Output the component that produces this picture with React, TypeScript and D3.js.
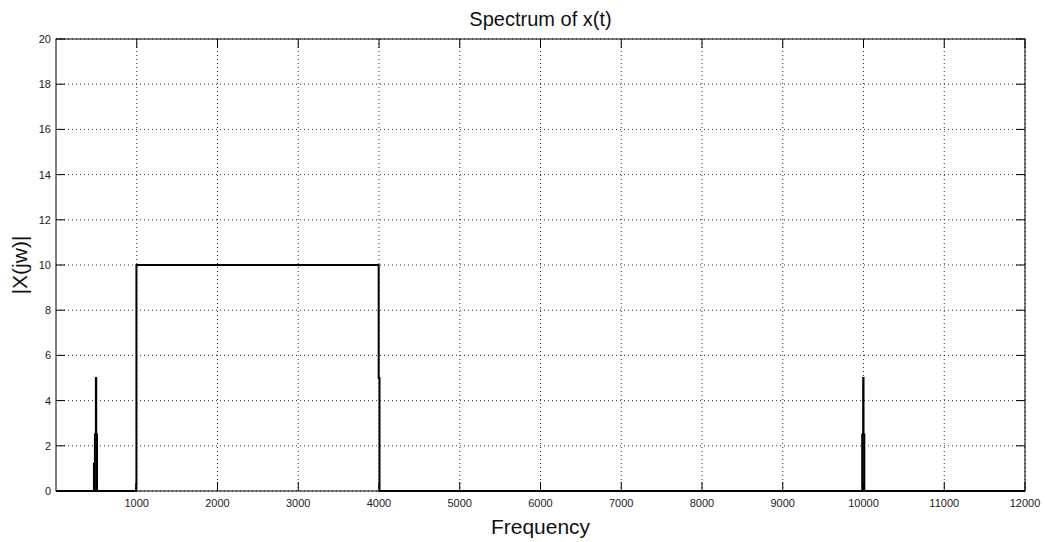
import React from "react";
import * as d3 from "d3";

const freqHz = [0, 470, 470, 470, 482, 482, 494, 494, 498, 498, 508, 508, 990, 992, 992, 996, 996, 3996, 3996, 4006, 4006, 9984, 9984, 9996, 9996, 10000, 10000, 10010, 10010, 12000];
const magnitude = [0, 0, 1.25, 0, 0, 2.5, 2.5, 5, 5, 2.5, 2.5, 0, 0, 0, 0.3, 0.3, 10, 10, 5, 5, 0, 0, 2.5, 2.5, 5, 5, 2.5, 2.5, 0, 0];
const xTicks = [1000, 2000, 3000, 4000, 5000, 6000, 7000, 8000, 9000, 10000, 11000, 12000];
const yTicks = [0, 2, 4, 6, 8, 10, 12, 14, 16, 18, 20];

const W = 1045, H = 542;
const L = 56, R = 1025, T = 39, B = 491;
const FONT = "'Liberation Sans', Arial, Helvetica, sans-serif";

export default function App() {
  const x = d3.scaleLinear().domain([0, 12000]).range([L, R]);
  const y = d3.scaleLinear().domain([0, 20]).range([B, T]);
  const pts: [number, number][] = freqHz.map((f, i) => [f, magnitude[i]]);
  const line = d3.line<[number, number]>().x(d => x(d[0])).y(d => y(d[1]));
  const tl = 9;
  return (
    <svg width={W} height={H} style={{ position: "absolute", left: 0, top: 0, background: "#fff" }}>
      <rect x={0} y={0} width={W} height={H} fill="#fff" />
      {xTicks.map(t => (
        <line key={"gx" + t} x1={x(t)} x2={x(t)} y1={T} y2={B} stroke="#000" strokeWidth={0.8} strokeDasharray="1,3" />
      ))}
      {yTicks.map(t => (
        <line key={"gy" + t} x1={L} x2={R} y1={y(t)} y2={y(t)} stroke="#000" strokeWidth={0.8} strokeDasharray="1,3" />
      ))}
      {xTicks.map(t => (
        <g key={"tx" + t}>
          <line x1={x(t)} x2={x(t)} y1={B} y2={B - tl} stroke="#000" />
          <line x1={x(t)} x2={x(t)} y1={T} y2={T + tl} stroke="#000" />
          <text x={x(t)} y={507} fontSize={11} fontFamily={FONT} textAnchor="middle" fill="#222">{t}</text>
        </g>
      ))}
      {yTicks.map(t => (
        <g key={"ty" + t}>
          <line x1={L} x2={L + tl} y1={y(t)} y2={y(t)} stroke="#000" />
          <line x1={R} x2={R - tl} y1={y(t)} y2={y(t)} stroke="#000" />
          <text x={51} y={y(t) + 4} fontSize={11} fontFamily={FONT} textAnchor="end" fill="#222">{t}</text>
        </g>
      ))}
      <rect x={L} y={T} width={R - L} height={B - T} fill="none" stroke="#000" strokeWidth={1} />
      <path d={line(pts) || ""} fill="none" stroke="#000" strokeWidth={2} strokeLinejoin="miter" />
      <text x={(L + R) / 2} y={26} fontSize={20} fontFamily={FONT} textAnchor="middle" fill="#111">Spectrum of x(t)</text>
      <text x={(L + R) / 2} y={534} fontSize={21} fontFamily={FONT} textAnchor="middle" fill="#111">Frequency</text>
      <text transform={`translate(27, ${(T + B) / 2}) rotate(-90)`} fontSize={21} fontFamily={FONT} textAnchor="middle" fill="#111">|X(jw)|</text>
    </svg>
  );
}
